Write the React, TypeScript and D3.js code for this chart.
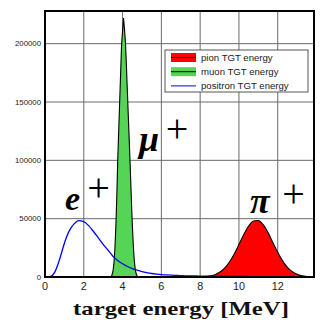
import React from "react";
import * as d3 from "d3";

// Energy grid (MeV) for pion and positron spectra
const energyGrid: number[] = [
  0, 0.25, 0.5, 0.75, 1, 1.25, 1.5, 1.75, 2, 2.25, 2.5, 2.75, 3, 3.25, 3.5, 3.75,
  4, 4.25, 4.5, 4.75, 5, 5.25, 5.5, 5.75, 6, 6.25, 6.5, 6.75, 7, 7.25, 7.5, 7.75,
  8, 8.25, 8.5, 8.75, 9, 9.25, 9.5, 9.75, 10, 10.25, 10.5, 10.75, 11, 11.25, 11.5, 11.75,
  12, 12.25, 12.5, 12.75, 13, 13.25, 13.5, 13.75,
];

const positronCounts: number[] = [
  0, 300, 4000, 15000, 29000, 39500, 45500, 48300, 47500, 44000, 39000, 33500, 28000, 23000, 17800, 14200,
  11300, 9000, 7200, 5800, 4600, 3700, 3000, 2500, 2100, 1800, 1550, 1350, 1200, 1050, 950, 850,
  780, 720, 660, 610, 570, 530, 500, 470, 440, 420, 400, 380, 360, 345, 330, 315,
  300, 290, 280, 270, 260, 250, 240, 230,
];

const pionCounts: number[] = [
  0, 0, 0, 0, 0, 0, 0, 0, 0, 0, 0, 0, 0, 0, 0, 0,
  0, 0, 0, 0, 0, 0, 0, 0, 0, 0, 0, 0, 0, 10, 30, 70,
  145, 380, 905, 1990, 4010, 7400, 12600, 19550, 27850, 36430, 43680, 48050, 48460, 44840, 38040, 29600,
  21120, 13820, 8300, 4570, 2310, 1070, 450, 176,
];

const muonEnergy: number[] = [
  0, 3.3, 3.35, 3.4, 3.45, 3.5, 3.55, 3.6, 3.65, 3.7, 3.75, 3.8, 3.85, 3.9, 3.95, 4.0,
  4.05, 4.1, 4.15, 4.2, 4.25, 4.3, 4.35, 4.4, 4.45, 4.5, 4.55, 4.6, 4.65, 4.7, 4.75, 4.8, 4.85, 4.9, 13.75,
];
const muonCounts: number[] = [
  0, 0, 0, 300, 1500, 4500, 11000, 23000, 42000, 68000, 100000, 125000, 150000, 175000, 200000, 211000,
  222000, 212000, 201000, 180000, 158000, 136000, 114000, 92000, 68000, 46000, 28000, 15000, 7000, 2800, 900, 200, 0, 0, 0,
];

const xTicks: number[] = [0, 2, 4, 6, 8, 10, 12];
const yTicks: number[] = [0, 50000, 100000, 150000, 200000];
const legendLabels: string[] = ["pion TGT energy", "muon TGT energy", "positron TGT energy"];
const xTitle = "target energy [MeV]";

const RED = "#ff0000";
const GREEN = "#55d455";
const BLUE = "#0000ff";

export default function App() {
  const W = 320, H = 320;
  const left = 45, right = 314, top = 11, bottom = 277;
  const x = d3.scaleLinear().domain([0, 13.87]).range([left, right]);
  const y = d3.scaleLinear().domain([0, 228000]).range([bottom, top]);

  const pionPts = energyGrid.map((e, i) => [e, pionCounts[i]] as [number, number]);
  const posPts = energyGrid.map((e, i) => [e, positronCounts[i]] as [number, number]);
  const muPts = muonEnergy.map((e, i) => [e, muonCounts[i]] as [number, number]);

  const areaSmooth = d3.area<[number, number]>()
    .x(d => x(d[0])).y0(y(0)).y1(d => y(d[1])).curve(d3.curveMonotoneX);
  const lineSmooth = d3.line<[number, number]>()
    .x(d => x(d[0])).y(d => y(d[1])).curve(d3.curveMonotoneX);
  const areaLin = d3.area<[number, number]>()
    .x(d => x(d[0])).y0(y(0)).y1(d => y(d[1]));
  const lineLin = d3.line<[number, number]>()
    .x(d => x(d[0])).y(d => y(d[1]));

  const sans = "'Liberation Sans', Arial, sans-serif";
  const serif = "'Liberation Serif', 'Times New Roman', serif";

  return (
    <svg width={W} height={H} style={{ position: "absolute", left: 0, top: 0, background: "#fff" }}>
      <rect x={0} y={0} width={W} height={H} fill="#fff" />
      <defs>
        <clipPath id="plot">
          <rect x={left} y={top} width={right - left} height={bottom - top} />
        </clipPath>
      </defs>
      {/* grid */}
      {xTicks.filter(t => t > 0).map(t => (
        <line key={"gx" + t} x1={x(t)} x2={x(t)} y1={top} y2={bottom} stroke="#6a6a6a" strokeWidth={1} />
      ))}
      {yTicks.filter(t => t > 0).map(t => (
        <line key={"gy" + t} x1={left} x2={right} y1={y(t)} y2={y(t)} stroke="#6a6a6a" strokeWidth={1} />
      ))}
      <g clipPath="url(#plot)">
        <path d={areaSmooth(pionPts) || ""} fill={RED} />
        <path d={lineSmooth(pionPts) || ""} fill="none" stroke="#000" strokeWidth={1.1} />
        <path d={areaLin(muPts) || ""} fill={GREEN} />
        <path d={lineLin(muPts) || ""} fill="none" stroke="#000" strokeWidth={1.1} />
        <path d={lineSmooth(posPts) || ""} fill="none" stroke={BLUE} strokeWidth={1.3} />
      </g>
      {/* frame */}
      <rect x={left} y={top} width={right - left} height={bottom - top} fill="none" stroke="#000" strokeWidth={2} />
      {/* tick labels */}
      {xTicks.map(t => (
        <text key={"tx" + t} x={x(t)} y={289.5} textAnchor="middle" fontFamily={sans} fontSize={10.8} fill="#222">{t}</text>
      ))}
      {yTicks.map(t => (
        <text key={"ty" + t} x={41} y={y(t) + 2.8} textAnchor="end" fontFamily={sans} fontSize={7.8} fill="#222">{t}</text>
      ))}
      {/* x title */}
      <text x={181} y={315} textAnchor="middle" fontFamily={serif} fontWeight="bold" fontSize={19} textLength={216} lengthAdjust="spacingAndGlyphs" fill="#111">{xTitle}</text>
      {/* particle labels */}
      <text x={65} y={210} fontFamily={serif} fontWeight="bold" fontStyle="italic" fontSize={34} fill="#000">e</text>
      <text x={87.3} y={201.3} fontFamily={serif} fontSize={40} fill="#000">+</text>
      <text x={139} y={151} fontFamily={serif} fontWeight="bold" fontStyle="italic" fontSize={36} fill="#000">μ</text>
      <text x={165.8} y={142.3} fontFamily={serif} fontSize={40} fill="#000">+</text>
      <text x={250} y={213} fontFamily={serif} fontWeight="bold" fontStyle="italic" fontSize={36} fill="#000">π</text>
      <text x={282.3} y={207.3} fontFamily={serif} fontSize={40} fill="#000">+</text>
      {/* legend */}
      <g>
        <rect x={165} y={50} width={143} height={42} fill="#fff" stroke="#555" strokeWidth={1} />
        {legendLabels.map((lab, i) => {
          const cy = 57.5 + i * 14.2;
          return (
            <g key={lab}>
              {i < 2 && <rect x={171} y={cy - 4.5} width={25} height={9} fill={i === 0 ? RED : GREEN} />}
              <line x1={171} x2={196} y1={cy} y2={cy} stroke={i === 2 ? BLUE : "#000"} strokeWidth={1} />
              <text x={201} y={cy + 3.3} fontFamily={sans} fontSize={9.6} fill="#222">{lab}</text>
            </g>
          );
        })}
      </g>
    </svg>
  );
}
